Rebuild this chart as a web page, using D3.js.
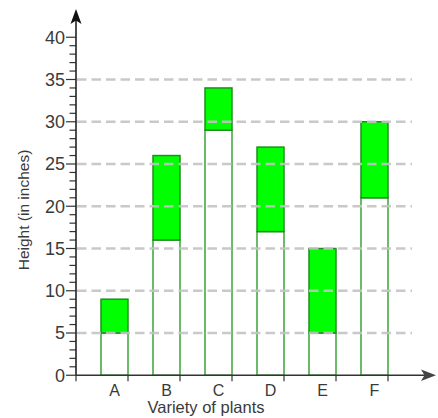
<!DOCTYPE html>
<html>
<head>
<meta charset="utf-8">
<script src="https://cdnjs.cloudflare.com/ajax/libs/d3/7.8.5/d3.min.js"></script>
<style>
    body { margin: 0; background: #fff; }
    text { font-family: Arial, "Liberation Sans", sans-serif; fill: #3a3a3a; }
</style>
</head>
<body>
<script>
'use strict';

var plants = ['A', 'B', 'C', 'D', 'E', 'F'];
var before = [5, 16, 29, 17, 5, 21];
var after = [9, 26, 34, 27, 15, 30];
var gridValues = [5, 10, 15, 20, 25, 30, 35];
var tickLabels = [0, 5, 10, 15, 20, 25, 30, 35, 40];

var w = 438,
    h = 418,
    left = 76,
    right = 388,
    bottom = 375.25,
    top40 = 37.25,
    barWidth = 27;

var svg = d3.select('body')
    .append('svg')
    .attr('width', w)
    .attr('height', h);

var x = d3.scaleBand()
    .domain(plants)
    .range([left, right]);

var y = d3.scaleLinear()
    .domain([0, 40])
    .range([bottom, top40]);

var data = plants.map(function(p, i) {
    return { name: p, lo: before[i], hi: after[i] };
});

/** bars: white part up to first height, green part for growth */
var bars = svg.append('g');
bars.selectAll('rect.lo')
    .data(data)
    .enter()
    .append('rect')
    .attr('class', 'lo')
    .attr('x', function(d) { return x(d.name) + x.bandwidth() - barWidth; })
    .attr('y', function(d) { return y(d.lo); })
    .attr('width', barWidth)
    .attr('height', function(d) { return y(0) - y(d.lo); })
    .attr('fill', '#fff')
    .attr('stroke', '#3aa43a')
    .attr('stroke-width', 1.5);

bars.selectAll('rect.hi')
    .data(data)
    .enter()
    .append('rect')
    .attr('class', 'hi')
    .attr('x', function(d) { return x(d.name) + x.bandwidth() - barWidth; })
    .attr('y', function(d) { return y(d.hi); })
    .attr('width', barWidth)
    .attr('height', function(d) { return y(d.lo) - y(d.hi); })
    .attr('fill', '#00ff00')
    .attr('stroke', '#1f8f1f')
    .attr('stroke-width', 1.5);

/** dashed grid on top */
svg.append('g').selectAll('line')
    .data(gridValues)
    .enter()
    .append('line')
    .attr('x1', left + 1)
    .attr('x2', 412)
    .attr('y1', function(d) { return y(d); })
    .attr('y2', function(d) { return y(d); })
    .attr('stroke', '#c4c4c4')
    .attr('stroke-width', 2.5)
    .attr('stroke-dasharray', '9.5,5')
    .attr('opacity', 0.9);

/** y axis with minor ticks */
var yAxis = svg.append('g').attr('class', 'y');
yAxis.selectAll('line.minor')
    .data(d3.range(0, 41))
    .enter()
    .append('line')
    .attr('x1', function(d) { return d % 5 === 0 ? left - 10 : left - 6.5; })
    .attr('x2', left)
    .attr('y1', function(d) { return y(d); })
    .attr('y2', function(d) { return y(d); })
    .attr('stroke', '#333')
    .attr('stroke-width', 1.2);

yAxis.selectAll('text')
    .data(tickLabels)
    .enter()
    .append('text')
    .attr('x', left - 11)
    .attr('y', function(d) { return y(d); })
    .attr('dy', '0.35em')
    .attr('text-anchor', 'end')
    .style('font-size', '18px')
    .text(function(d) { return d; });

svg.append('line')
    .attr('x1', left).attr('x2', left)
    .attr('y1', bottom).attr('y2', 16)
    .attr('stroke', '#222')
    .attr('stroke-width', 1.6);
svg.append('path')
    .attr('d', 'M76,9L81.5,24L76,20.5L70.5,24Z')
    .attr('fill', '#111');

/** x axis */
var xTicks = plants.map(function(p) { return x(p) + x.bandwidth(); });
xTicks.unshift(left);
svg.append('g').selectAll('line')
    .data(xTicks)
    .enter()
    .append('line')
    .attr('x1', function(d) { return d; })
    .attr('x2', function(d) { return d; })
    .attr('y1', bottom)
    .attr('y2', bottom + 6)
    .attr('stroke', '#333')
    .attr('stroke-width', 1.2);

svg.append('g').selectAll('text')
    .data(plants)
    .enter()
    .append('text')
    .attr('x', function(d) { return x(d) + x.bandwidth() - barWidth / 2; })
    .attr('y', bottom + 21)
    .attr('text-anchor', 'middle')
    .style('font-size', '16px')
    .text(function(d) { return d; });

svg.append('line')
    .attr('x1', left).attr('x2', 430)
    .attr('y1', bottom).attr('y2', bottom)
    .attr('stroke', '#333')
    .attr('stroke-width', 1.6);
svg.append('path')
    .attr('d', 'M436,375.25L421,369.5L424.5,375.25L421,381Z')
    .attr('fill', '#444');

/** axis titles */
svg.append('text')
    .attr('x', 206)
    .attr('y', 413)
    .attr('text-anchor', 'middle')
    .style('font-size', '16.5px')
    .text('Variety of plants');

svg.append('text')
    .attr('transform', 'translate(29,210) rotate(-90)')
    .attr('text-anchor', 'middle')
    .style('font-size', '15.5px')
    .text('Height (in inches)');
</script>
</body>
</html>
